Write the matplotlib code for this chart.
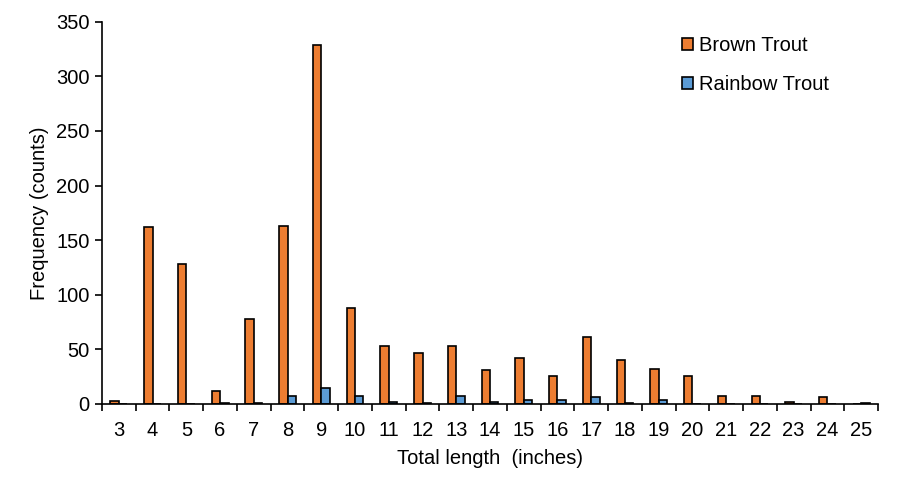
import numpy as np
import matplotlib.pyplot as plt
from matplotlib.patches import Patch

lengths = list(range(3, 26))
brown = [3, 162, 128, 12, 78, 163, 329, 88, 53, 47, 53, 31, 42, 26, 61, 40, 32, 26, 7, 7, 2, 6, 0]
rainbow = [0, 0, 0, 1, 1, 7, 15, 7, 2, 1, 7, 2, 4, 4, 6, 1, 4, 0, 0, 0, 0, 0, 1]

plt.rcParams['font.family'] = ['Liberation Sans', 'DejaVu Sans']

fig = plt.figure(figsize=(9, 4.92), dpi=100)
ax = fig.add_axes([0.1133, 0.1789, 0.8623, 0.7771])

x = np.arange(len(lengths))
w = 0.25
ax.bar(x - w / 2, brown, width=w, color='#ED7D31', edgecolor='black', linewidth=1.2, label='Brown Trout')
ax.bar(x + w / 2, rainbow, width=w, color='#5B9BD5', edgecolor='black', linewidth=1.2, label='Rainbow Trout')

ax.set_xlim(-0.5, len(lengths) - 0.5)
ax.set_ylim(0, 350)
ax.set_yticks(range(0, 351, 50))
ax.set_xticks(x)
ax.set_xticklabels([str(v) for v in lengths])
ax.set_xticks(np.arange(-0.5, len(lengths), 1), minor=True)
ax.tick_params(axis='x', which='major', length=0, pad=12, labelsize=14.5)
ax.tick_params(axis='x', which='minor', length=5, width=1.2, direction='out')
ax.tick_params(axis='y', length=5, width=1.2, direction='out', labelsize=14.5, pad=4)

for s in ['top', 'right']:
    ax.spines[s].set_visible(False)
for s in ['left', 'bottom']:
    ax.spines[s].set_linewidth(1.2)

ax.set_xlabel('Total length  (inches)', fontsize=14.5, labelpad=7)
ax.set_ylabel('Frequency (counts)', fontsize=14.5, labelpad=5)

handles = [Patch(facecolor='#ED7D31', edgecolor='black', linewidth=1.2),
           Patch(facecolor='#5B9BD5', edgecolor='black', linewidth=1.2)]
ax.legend(handles, ['Brown Trout', 'Rainbow Trout'], loc='upper left',
          bbox_to_anchor=(0.724, 1.01), frameon=False, fontsize=14.5,
          handlelength=0.55, handleheight=0.55, handletextpad=0.3, labelspacing=1.0)

fig.savefig('out.png', dpi=100)
